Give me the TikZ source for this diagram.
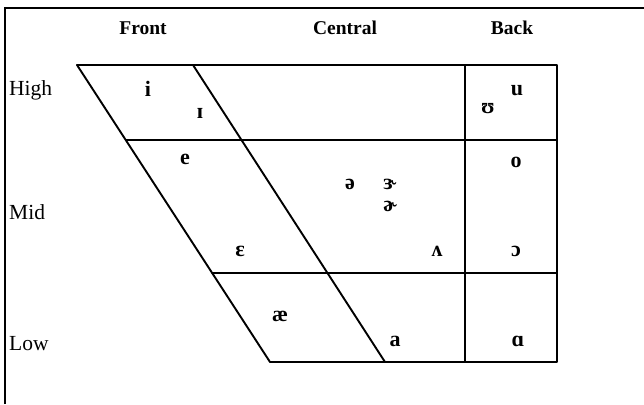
\documentclass[tikz,border=0pt]{standalone}
\usepackage{fontspec}
\setmainfont{Liberation Serif}
\begin{document}
\begin{tikzpicture}[x=1pt,y=-1pt,
  grid/.style={line width=1.9pt,line cap=round,line join=round},
  frame/.style={line width=2.2pt},
  head/.style={font=\fontsize{19.5}{22}\selectfont\bfseries,inner sep=0pt},
  rowlab/.style={font=\fontsize{21.5}{22}\selectfont,inner sep=0pt,anchor=west},
  vowel/.style={font=\fontsize{22}{22}\selectfont\bfseries,inner sep=0pt}]
\useasboundingbox (0,0) rectangle (644,404);
% frame (top and left only)
\coordinate (fA) at (5,8);
\coordinate (fB) at (644,8);
\coordinate (fC) at (5,404);
\draw[frame] (fC) -- (fA) -- (fB);
% chart corners
\coordinate (tl) at (77,65);
\coordinate (ti) at (193,65);
\coordinate (tb) at (465,65);
\coordinate (tr) at (557,65);
\coordinate (bl) at (270,362);
\coordinate (bi) at (385,362);
\coordinate (bb) at (465,362);
\coordinate (br) at (557,362);
\coordinate (m1l) at (126,140);
\coordinate (m2l) at (212,273);
\coordinate (m1r) at (557,140);
\coordinate (m2r) at (557,273);
\draw[grid] (tl) -- (tr) -- (br) -- (bl) -- cycle;
\draw[grid] (ti) -- (bi);
\draw[grid] (tb) -- (bb);
\draw[grid] (m1l) -- (m1r);
\draw[grid] (m2l) -- (m2r);
% headings
\node[head] (front) at (143,28) {Front};
\node[head] (central) at (345,28) {Central};
\node[head] (back) at (512,28) {Back};
\node[rowlab] (high) at (9,90) {High};
\node[rowlab] (mid) at (9,212) {Mid};
\node[rowlab] (low) at (9,344) {Low};
% vowels
\node[vowel] (vi) at (148,89) {i};
\node[vowel] (vI) at (200,113) {ɪ};
\node[vowel] (vu) at (517,91) {u};
\node[vowel] (vU) at (488,109) {ʊ};
\node[vowel] (ve) at (185,159) {e};
\node[vowel] (vo) at (516,162) {o};
\node[vowel] (vschwa) at (350,184) {ə};
\node[vowel] (vrev) at (390,184) {ɝ};
\node[vowel] (vhook) at (390,206) {ɚ};
\node[vowel] (veps) at (240,251) {ɛ};
\node[vowel] (vv) at (437,251) {ʌ};
\node[vowel] (vo2) at (516,251) {ɔ};
\node[vowel] (vae) at (280,316) {æ};
\node[vowel] (va) at (395,341) {a};
\node[vowel] (valpha) at (518,341) {ɑ};
\end{tikzpicture}
\end{document}
